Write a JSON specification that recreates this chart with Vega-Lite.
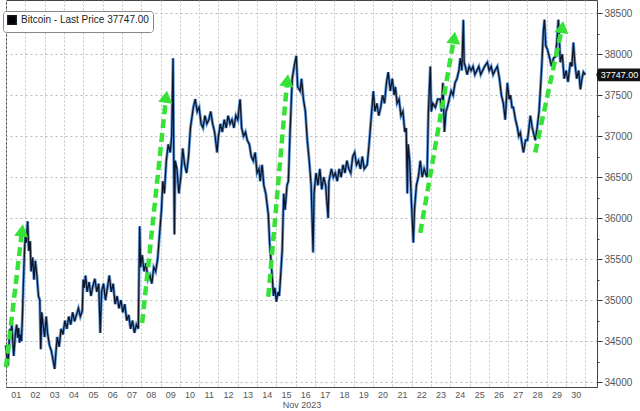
{
  "$schema": "https://vega.github.io/schema/vega-lite/v6.json",
  "width": 591,
  "height": 387,
  "autosize": "none",
  "padding": {"left": 6, "top": 0, "right": 43, "bottom": 24},
  "background": "white",
  "config": {
    "view": {"stroke": "#444", "strokeWidth": 1},
    "font": "Liberation Sans",
    "axis": {"labelOverlap": false, "labelFlush": false}
  },
  "datasets": {
    "btc": [
      {"t":0.00,"p":34450},{"t":0.05,"p":34300},{"t":0.10,"p":34200},{"t":0.15,"p":34420},{"t":0.20,"p":34650},{"t":0.25,"p":34530},{"t":0.30,"p":34720},{"t":0.35,"p":34500},{"t":0.40,"p":34320},{"t":0.45,"p":34480},{"t":0.50,"p":34620},{"t":0.55,"p":34700},{"t":0.60,"p":34540},{"t":0.65,"p":34660},{"t":0.70,"p":34480},{"t":0.75,"p":34580},{"t":0.80,"p":34500},{"t":0.85,"p":34800},{"t":0.90,"p":35200},{"t":0.95,"p":35550},{"t":1.00,"p":35800},{"t":1.05,"p":35700},{"t":1.12,"p":35960},{"t":1.18,"p":35600},{"t":1.25,"p":35720},{"t":1.30,"p":35350},{"t":1.38,"p":35520},{"t":1.45,"p":35250},{"t":1.52,"p":35480},{"t":1.60,"p":35300},{"t":1.68,"p":35050},{"t":1.75,"p":35000},{"t":1.80,"p":34400},{"t":1.85,"p":34850},{"t":1.92,"p":34700},{"t":2.00,"p":34550},{"t":2.08,"p":34800},{"t":2.15,"p":34600},{"t":2.25,"p":34450},{"t":2.35,"p":34380},{"t":2.45,"p":34250},{"t":2.52,"p":34160},{"t":2.58,"p":34350},{"t":2.65,"p":34550},{"t":2.75,"p":34430},{"t":2.85,"p":34650},{"t":2.95,"p":34580},{"t":3.05,"p":34750},{"t":3.15,"p":34650},{"t":3.25,"p":34800},{"t":3.35,"p":34700},{"t":3.45,"p":34850},{"t":3.55,"p":34740},{"t":3.65,"p":34820},{"t":3.75,"p":34900},{"t":3.85,"p":34800},{"t":3.95,"p":34870},{"t":4.00,"p":35250},{"t":4.05,"p":35150},{"t":4.12,"p":35300},{"t":4.20,"p":35100},{"t":4.30,"p":35220},{"t":4.40,"p":35050},{"t":4.50,"p":35170},{"t":4.60,"p":35260},{"t":4.70,"p":35100},{"t":4.80,"p":35200},{"t":4.88,"p":34600},{"t":4.95,"p":35100},{"t":5.05,"p":35200},{"t":5.15,"p":35000},{"t":5.25,"p":35150},{"t":5.35,"p":35300},{"t":5.45,"p":35100},{"t":5.55,"p":35200},{"t":5.65,"p":34950},{"t":5.75,"p":35050},{"t":5.85,"p":34900},{"t":5.95,"p":35000},{"t":6.05,"p":34850},{"t":6.15,"p":34950},{"t":6.25,"p":34750},{"t":6.35,"p":34820},{"t":6.45,"p":34650},{"t":6.55,"p":34750},{"t":6.65,"p":34600},{"t":6.75,"p":34700},{"t":6.85,"p":34650},{"t":6.92,"p":35900},{"t":6.97,"p":35400},{"t":7.05,"p":35550},{"t":7.15,"p":35350},{"t":7.25,"p":35450},{"t":7.35,"p":35250},{"t":7.45,"p":35300},{"t":7.55,"p":35200},{"t":7.65,"p":35400},{"t":7.75,"p":35350},{"t":7.85,"p":35500},{"t":7.95,"p":35800},{"t":8.05,"p":36100},{"t":8.12,"p":36450},{"t":8.20,"p":36300},{"t":8.30,"p":36700},{"t":8.40,"p":36900},{"t":8.50,"p":36800},{"t":8.58,"p":37000},{"t":8.65,"p":37950},{"t":8.68,"p":36900},{"t":8.72,"p":35800},{"t":8.76,"p":36700},{"t":8.85,"p":36600},{"t":8.95,"p":36300},{"t":9.05,"p":36500},{"t":9.15,"p":36850},{"t":9.25,"p":36650},{"t":9.35,"p":36550},{"t":9.45,"p":36750},{"t":9.55,"p":37100},{"t":9.70,"p":37350},{"t":9.80,"p":37450},{"t":9.90,"p":37300},{"t":10.00,"p":37350},{"t":10.10,"p":37150},{"t":10.20,"p":37100},{"t":10.30,"p":37250},{"t":10.40,"p":37150},{"t":10.50,"p":37200},{"t":10.60,"p":37300},{"t":10.70,"p":37150},{"t":10.80,"p":37050},{"t":10.93,"p":36800},{"t":11.00,"p":37000},{"t":11.10,"p":37150},{"t":11.20,"p":37050},{"t":11.30,"p":37200},{"t":11.40,"p":37100},{"t":11.50,"p":37250},{"t":11.60,"p":37150},{"t":11.70,"p":37200},{"t":11.80,"p":37100},{"t":11.90,"p":37250},{"t":12.00,"p":37200},{"t":12.12,"p":37450},{"t":12.20,"p":37100},{"t":12.30,"p":37000},{"t":12.40,"p":37050},{"t":12.49,"p":36950},{"t":12.60,"p":36900},{"t":12.70,"p":36750},{"t":12.80,"p":36700},{"t":12.90,"p":36800},{"t":13.00,"p":36550},{"t":13.10,"p":36600},{"t":13.16,"p":36450},{"t":13.26,"p":36650},{"t":13.35,"p":36400},{"t":13.45,"p":36300},{"t":13.58,"p":36050},{"t":13.65,"p":35700},{"t":13.78,"p":35300},{"t":13.85,"p":35050},{"t":13.92,"p":35150},{"t":14.00,"p":34980},{"t":14.08,"p":35100},{"t":14.15,"p":35050},{"t":14.22,"p":35300},{"t":14.30,"p":35600},{"t":14.38,"p":36300},{"t":14.45,"p":36100},{"t":14.55,"p":36400},{"t":14.62,"p":36450},{"t":14.70,"p":37000},{"t":14.82,"p":37700},{"t":14.92,"p":37850},{"t":15.03,"p":37980},{"t":15.10,"p":37600},{"t":15.23,"p":37550},{"t":15.30,"p":37700},{"t":15.40,"p":37450},{"t":15.50,"p":37300},{"t":15.60,"p":36950},{"t":15.70,"p":36700},{"t":15.80,"p":36400},{"t":15.90,"p":35580},{"t":15.95,"p":36300},{"t":16.05,"p":36550},{"t":16.15,"p":36400},{"t":16.25,"p":36600},{"t":16.35,"p":36350},{"t":16.45,"p":36500},{"t":16.55,"p":36400},{"t":16.68,"p":36000},{"t":16.72,"p":36450},{"t":16.85,"p":36600},{"t":16.95,"p":36500},{"t":17.05,"p":36550},{"t":17.15,"p":36450},{"t":17.25,"p":36600},{"t":17.35,"p":36500},{"t":17.45,"p":36650},{"t":17.55,"p":36550},{"t":17.65,"p":36700},{"t":17.75,"p":36600},{"t":17.85,"p":36550},{"t":17.95,"p":36750},{"t":18.05,"p":36800},{"t":18.15,"p":36650},{"t":18.25,"p":36700},{"t":18.35,"p":36600},{"t":18.45,"p":36750},{"t":18.55,"p":36600},{"t":18.70,"p":36650},{"t":18.80,"p":36900},{"t":18.90,"p":37200},{"t":19.02,"p":37550},{"t":19.10,"p":37300},{"t":19.20,"p":37400},{"t":19.30,"p":37250},{"t":19.40,"p":37350},{"t":19.50,"p":37500},{"t":19.60,"p":37400},{"t":19.70,"p":37650},{"t":19.79,"p":37780},{"t":19.90,"p":37550},{"t":20.00,"p":37700},{"t":20.10,"p":37500},{"t":20.16,"p":37600},{"t":20.25,"p":37400},{"t":20.35,"p":37450},{"t":20.45,"p":37250},{"t":20.55,"p":37300},{"t":20.65,"p":37050},{"t":20.72,"p":37100},{"t":20.78,"p":36300},{"t":20.82,"p":36900},{"t":20.90,"p":36700},{"t":21.00,"p":36150},{"t":21.09,"p":35700},{"t":21.15,"p":36100},{"t":21.25,"p":36400},{"t":21.35,"p":36500},{"t":21.45,"p":36700},{"t":21.55,"p":36500},{"t":21.65,"p":36600},{"t":21.72,"p":36550},{"t":21.80,"p":36500},{"t":21.87,"p":37300},{"t":21.97,"p":37850},{"t":22.02,"p":37300},{"t":22.10,"p":37400},{"t":22.23,"p":37350},{"t":22.35,"p":37450},{"t":22.49,"p":37450},{"t":22.55,"p":37300},{"t":22.62,"p":37650},{"t":22.70,"p":37050},{"t":22.78,"p":37300},{"t":22.85,"p":37350},{"t":22.95,"p":37450},{"t":23.05,"p":37550},{"t":23.15,"p":37500},{"t":23.25,"p":37650},{"t":23.35,"p":37700},{"t":23.45,"p":37800},{"t":23.52,"p":37950},{"t":23.60,"p":37800},{"t":23.68,"p":38420},{"t":23.72,"p":37900},{"t":23.78,"p":37850},{"t":23.88,"p":37750},{"t":23.98,"p":37850},{"t":24.08,"p":37800},{"t":24.18,"p":37850},{"t":24.28,"p":37750},{"t":24.38,"p":37800},{"t":24.48,"p":37850},{"t":24.58,"p":37750},{"t":24.68,"p":37800},{"t":24.78,"p":37850},{"t":24.92,"p":37900},{"t":25.02,"p":37800},{"t":25.12,"p":37850},{"t":25.22,"p":37750},{"t":25.32,"p":37800},{"t":25.44,"p":37850},{"t":25.55,"p":37700},{"t":25.65,"p":37500},{"t":25.75,"p":37400},{"t":25.85,"p":37200},{"t":25.96,"p":37650},{"t":26.05,"p":37450},{"t":26.12,"p":37500},{"t":26.20,"p":37350},{"t":26.27,"p":37350},{"t":26.38,"p":37200},{"t":26.48,"p":37100},{"t":26.55,"p":37000},{"t":26.63,"p":37040},{"t":26.72,"p":36900},{"t":26.79,"p":36800},{"t":26.90,"p":36950},{"t":27.00,"p":36950},{"t":27.08,"p":37100},{"t":27.15,"p":37250},{"t":27.25,"p":37100},{"t":27.35,"p":37000},{"t":27.41,"p":36950},{"t":27.51,"p":37120},{"t":27.60,"p":37300},{"t":27.67,"p":37570},{"t":27.75,"p":37900},{"t":27.82,"p":38270},{"t":27.88,"p":38420},{"t":27.95,"p":38100},{"t":28.03,"p":38060},{"t":28.15,"p":37950},{"t":28.25,"p":37850},{"t":28.35,"p":37950},{"t":28.45,"p":37970},{"t":28.52,"p":38150},{"t":28.60,"p":38420},{"t":28.65,"p":38200},{"t":28.70,"p":37900},{"t":28.80,"p":38000},{"t":28.90,"p":37700},{"t":29.00,"p":37800},{"t":29.10,"p":37660},{"t":29.22,"p":37900},{"t":29.30,"p":37850},{"t":29.38,"p":38140},{"t":29.45,"p":37900},{"t":29.55,"p":37700},{"t":29.65,"p":37800},{"t":29.74,"p":37570},{"t":29.82,"p":37700},{"t":29.90,"p":37780},{"t":30.00,"p":37747}
    ],
    "arrows": [
      {"t0":0.0,"p0":34180,"t1":0.83,"p1":35850},
      {"t0":7.05,"p0":34720,"t1":8.29,"p1":37480},
      {"t0":13.58,"p0":35040,"t1":14.56,"p1":37680},
      {"t0":21.45,"p0":35820,"t1":23.2,"p1":38200},
      {"t0":27.4,"p0":36800,"t1":28.8,"p1":38330}
    ],
    "last": [{"price":37747,"label":"37747.00"}]
  },
  "layer": [
    {
      "data": {"name": "btc"},
      "mark": {"type": "line", "color": "#4a8ad6", "strokeWidth": 3, "opacity": 0.85},
      "encoding": {
        "x": {
          "field": "t", "type": "quantitative",
          "scale": {"domain": [0, 30.6], "nice": false, "zero": false},
          "axis": {
            "orient": "bottom",
            "values": [0,1,2,3,4,5,6,7,8,9,10,11,12,13,14,15,16,17,18,19,20,21,22,23,24,25,26,27,28,29,30],
            "tickCount": 100,
            "labelExpr": "datum.value >= 30 ? '' : (datum.value < 9 ? '0' : '') + (datum.value + 1)",
            "labelOffset": 9.65,
            "labelFlush": false,
            "labelOverlap": false,
            "labelAlign": "center",
            "labelAngle": 0,
            "labelFontSize": 9,
            "labelColor": "#555",
            "labelPadding": 3,
            "domain": false,
            "ticks": false,
            "grid": true,
            "gridDash": [2, 2],
            "gridColor": "#c4c4c4",
            "title": "Nov 2023",
            "titleFontSize": 9,
            "titleFontWeight": "normal",
            "titleColor": "#555",
            "titlePadding": 1
          }
        },
        "y": {
          "field": "p", "type": "quantitative",
          "scale": {"domain": [33940, 38660], "nice": false, "zero": false},
          "axis": {
            "orient": "right",
            "values": [34000,34250,34500,34750,35000,35250,35500,35750,36000,36250,36500,36750,37000,37250,37500,37750,38000,38250,38500],
            "tickCount": 100,
            "format": "d",
            "labelExpr": "datum.value % 500 == 0 ? datum.label : ''",
            "labelFontSize": 10,
            "labelColor": "#555",
            "labelPadding": 2,
            "domain": false,
            "ticks": true,
            "tickColor": "#333",
            "tickSize": {"condition": {"test": "datum.value % 500 == 0", "value": 5}, "value": 2},
            "grid": true,
            "gridOpacity": {"condition": {"test": "datum.value % 500 == 0", "value": 1}, "value": 0},
            "gridDash": [2, 3],
            "gridColor": "#b8b8b8",
            "title": null
          }
        }
      }
    },
    {
      "data": {"name": "btc"},
      "mark": {"type": "line", "strokeWidth": 1.3},
      "encoding": {
        "x": {"field": "t", "type": "quantitative"},
        "y": {"field": "p", "type": "quantitative"},
        "color": {
          "datum": "Bitcoin - Last Price 37747.00",
          "scale": {"range": ["#0d1526"]},
          "legend": {
            "orient": "none",
            "legendX": -3,
            "legendY": 11,
            "title": null,
            "symbolType": "square",
            "symbolSize": 70,
            "symbolFillColor": "#000",
            "symbolStrokeColor": "#000",
            "labelFontSize": 10,
            "labelColor": "#222",
            "strokeColor": "#888",
            "fillColor": "white",
            "cornerRadius": 3,
            "padding": 4
          }
        }
      }
    },
    {
      "data": {"name": "arrows"},
      "mark": {"type": "rule", "color": "#36e236", "strokeWidth": 4.5, "strokeDash": [9, 5]},
      "encoding": {
        "x": {"field": "t0", "type": "quantitative"},
        "y": {"field": "p0", "type": "quantitative"},
        "x2": {"field": "t1"},
        "y2": {"field": "p1"}
      }
    },
    {
      "data": {"name": "arrows"},
      "mark": {"type": "point", "shape": "triangle-up", "filled": true, "size": 200, "color": "#36e236", "opacity": 1, "angle": 8},
      "encoding": {
        "x": {"field": "t1", "type": "quantitative"},
        "y": {"field": "p1", "type": "quantitative"}
      }
    },
    {
      "data": {"name": "last"},
      "mark": {"type": "point", "shape": "M-1.1,0L-1,-0.3L1,-0.3L1,0.3L-1,0.3Z", "filled": true, "size": 1764, "color": "#111", "opacity": 1},
      "encoding": {
        "x": {"datum": 31.76, "type": "quantitative"},
        "y": {"field": "price", "type": "quantitative"}
      }
    },
    {
      "data": {"name": "last"},
      "mark": {"type": "text", "color": "white", "fontSize": 9, "align": "center", "baseline": "middle"},
      "encoding": {
        "x": {"datum": 31.76, "type": "quantitative"},
        "y": {"field": "price", "type": "quantitative"},
        "text": {"field": "label"}
      }
    }
  ]
}
